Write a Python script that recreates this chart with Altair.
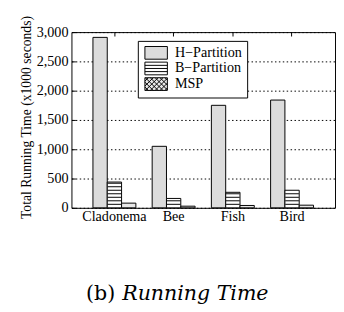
import altair as alt
import pandas as pd

categories = ["Cladonema", "Bee", "Fish", "Bird"]
series = ["H\u2212Partition", "B\u2212Partition", "MSP"]
h_partition = [2910, 1050, 1750, 1840]
b_partition = [440, 160, 265, 300]
msp = [80, 28, 40, 45]

fills = ["#dcdcdc", "#ffffff", "#e8e8e8"]

rows = []
for i, c in enumerate(categories):
    for s, vals in zip(series, [h_partition, b_partition, msp]):
        rows.append({"cat": c, "series": s, "value": vals[i]})
df = pd.DataFrame(rows)

# legend symbol shapes: 23x13 px rectangles; 1 unit = 5 px (symbolSize 100)
U = 5.0
x0, x1 = -1.0, -1.0 + 23 / U
hh = 6.5 / U
def r(v):
    return round(v, 4)
rect = f"M{r(x0)},{r(-hh)}H{r(x1)}V{r(hh)}H{r(x0)}Z"
sy = 3.2 / U
stripes = rect + "".join(f" M{r(x0)},{r(y)}H{r(x1)}" for y in (-sy, 0.0, sy))
d = 5.0 / U
segs = []
c = x0 - 2 * hh
while c <= x1 + 2 * hh:
    for sgn in (1, -1):
        pts = []
        for x in (x0, x1):
            y = sgn * (x - c)
            if -hh - 1e-9 <= y <= hh + 1e-9:
                pts.append((x, y))
        for y in (-hh, hh):
            x = sgn * y + c
            if x0 - 1e-9 <= x <= x1 + 1e-9:
                pts.append((x, y))
        pts = sorted(set((r(px), r(py)) for px, py in pts))
        if len(pts) >= 2 and pts[0] != pts[-1]:
            (a1, b1), (a2, b2) = pts[0], pts[-1]
            segs.append(f"M{a1},{b1}L{a2},{b2}")
    c += d
hatch = rect + " " + " ".join(segs)
shapes = [rect, stripes, hatch]

FONT = "Liberation Serif"

x_sort = categories
yaxis = alt.Axis(
    title="Total Running Time (x1000 seconds)",
    values=[0, 500, 1000, 1500, 2000, 2500, 3000],
    format=",d",
    offset=-4, tickSize=4, domain=False, labelPadding=3.5,
    grid=True, gridDash=[1.5, 2.5], gridColor="black", gridWidth=1,
    tickColor="black",
    titleAngle=270, titleX=-50, titleY=87, titleAlign="center", titleBaseline="middle",
    titleFontSize=14, titleFontWeight="normal",
)
yscale = alt.Scale(domain=[0, 3000], nice=False, zero=True)
xscale = alt.Scale(paddingInner=0.275, paddingOuter=0.363)
offscale = alt.Scale(domain=series, paddingInner=0, paddingOuter=0)
fillscale = alt.Scale(domain=series, range=fills)
shapescale = alt.Scale(domain=series, range=shapes)
strokescale = alt.Scale(domain=series, range=["black", "black", "black"])
legend = alt.Legend(
    title="\u2003\u2002", titleOrient="right", titlePadding=0,
    titleFont=FONT, titleFontSize=14.5,
    orient="none", legendX=68, legendY=9,
    strokeColor="black", fillColor="white", padding=5, cornerRadius=0,
    symbolSize=100, symbolStrokeColor="black", symbolStrokeWidth=1,
    labelFont=FONT, labelFontSize=14.5, labelColor="black", labelOffset=18.5,
    rowPadding=-3.6, labelLimit=300,
)

legend_pts = alt.Chart(df).transform_filter("false").mark_point(
    filled=True, strokeWidth=1, size=100, opacity=1
).encode(
    x=alt.X("cat:N", sort=x_sort, scale=xscale, axis=None),
    xOffset=alt.XOffset("series:N", sort=series, scale=offscale),
    y=alt.Y("value:Q", scale=yscale, axis=yaxis),
    fill=alt.Fill("series:N", scale=fillscale, legend=legend, sort=series),
    shape=alt.Shape("series:N", scale=shapescale, legend=legend, sort=series),
    stroke=alt.Stroke("series:N", scale=strokescale, legend=legend, sort=series),
)

bars = alt.Chart(df).mark_bar(stroke="black", strokeWidth=1).encode(
    x=alt.X("cat:N", sort=x_sort, scale=xscale,
            axis=alt.Axis(title=None, labelAngle=0, ticks=False, domain=False,
                          offset=-4, labelPadding=6)),
    xOffset=alt.XOffset("series:N", sort=series, scale=offscale),
    y=alt.Y("value:Q", scale=yscale, axis=yaxis),
    fill=alt.Fill("series:N", scale=fillscale, legend=None, sort=series),
)

stripe_layer = alt.Chart(df).transform_filter(
    alt.datum.series == series[1]
).transform_calculate(
    s="sequence(60, datum.value, 60)"
).transform_flatten(["s"]).mark_tick(
    orient="horizontal", thickness=1, size=14, color="black", opacity=1
).encode(
    x=alt.X("cat:N", sort=x_sort, scale=xscale,
            axis=alt.Axis(orient="top", title=None, labels=False, domain=False,
                          ticks=True, tickSize=4, offset=-4, tickColor="black")),
    xOffset=alt.XOffset("series:N", sort=series, scale=offscale),
    y=alt.Y("s:Q", scale=yscale, axis=yaxis),
)

cap_b = alt.Chart(pd.DataFrame({"t": ["(b)"]})).mark_text(
    font="DejaVu Serif", fontSize=21, align="left", baseline="alphabetic", color="black"
).encode(text="t:N", x=alt.value(15), y=alt.value(274))

cap_rt = alt.Chart(pd.DataFrame({"t": ["Running Time"]})).mark_text(
    font="DejaVu Serif", fontSize=21, fontStyle="italic", align="left",
    baseline="alphabetic", color="black"
).encode(text="t:N", x=alt.value(52), y=alt.value(274))

chart = alt.layer(legend_pts, bars, stripe_layer, cap_b, cap_rt).resolve_axis(
    x="independent"
).properties(
    width=270, height=180,
    autosize=alt.AutoSizeParams(type="none"),
    padding={"left": 65, "top": 21, "right": 1, "bottom": 102},
    background="white",
).configure(
    font=FONT
).configure_view(
    stroke="black", strokeWidth=1
).configure_axis(
    labelFont=FONT, labelFontSize=14.5, labelColor="black",
    titleFont=FONT, titleColor="black",
).configure_legend(
    labelFont=FONT, labelFontSize=14.5, labelColor="black",
    symbolStrokeColor="black", symbolStrokeWidth=1,
)

chart.save("out.html", embed_options={"renderer": "svg", "actions": False})
